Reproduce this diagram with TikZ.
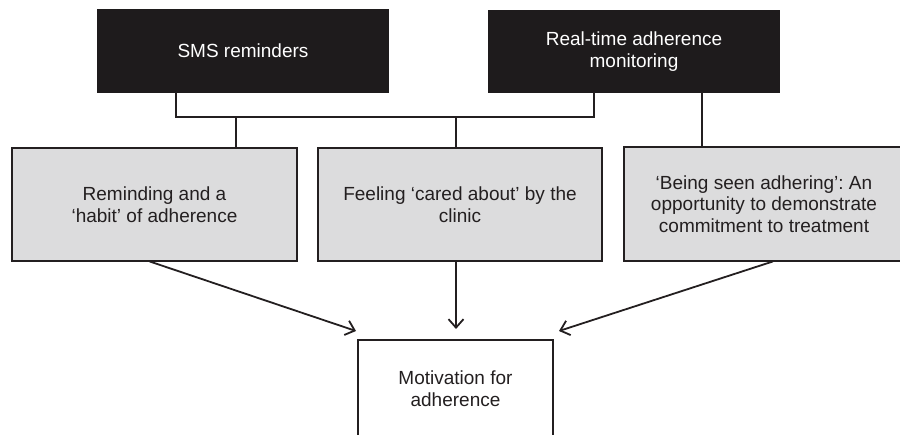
\documentclass[tikz,border=0pt]{standalone}
\usepackage{fontspec}
\setmainfont{Liberation Sans}
\usepackage{tikz}
\usetikzlibrary{arrows.meta}
\frenchspacing

\definecolor{boxdark}{HTML}{1E1B1C}
\definecolor{boxgray}{HTML}{DCDCDD}
\definecolor{inkgray}{HTML}{231F20}

\begin{document}
\begin{tikzpicture}[line cap=rect,line join=miter,x=1pt,y=-1pt,
  every node/.style={font=\fontsize{19}{21.5}\selectfont,align=center,inner sep=0pt},
  topbox/.style={fill=boxdark,text=white,draw=boxdark,line width=1.5pt},
  midbox/.style={fill=boxgray,text=inkgray,draw=inkgray,line width=1.5pt},
  endbox/.style={fill=white,text=inkgray,draw=inkgray,line width=2pt},
  link/.style={draw=inkgray,line width=2pt},
  arr/.style={draw=inkgray,line width=1.8pt,-{Straight Barb[length=8.5pt,width=15pt]}}]
\useasboundingbox (0,0) rectangle (900,435);
\clip (0,0) rectangle (900,435);
\node[topbox,minimum width=290pt,minimum height=82pt] (sms) at (243,51) {SMS reminders};
\node[topbox,minimum width=290pt,minimum height=81pt] (rtm) at (634,51.5) {Real-time adherence\\monitoring};
\node[midbox,minimum width=285pt,minimum height=113pt] (remind) at (154.5,204.5) {Reminding and a\\`habit' of adherence};
\node[midbox,minimum width=284pt,minimum height=113pt] (cared) at (460,204.5) {Feeling `cared about' by the\\clinic};
\node[midbox,minimum width=280pt,minimum height=114pt] (seen) at (764,204) {`Being seen adhering': An\\opportunity to demonstrate\\commitment to treatment};
\node[endbox,minimum width=195pt,minimum height=97pt] (motiv) at (455.5,388.5) {Motivation for\\adherence};
\coordinate (bl) at (176,117);
\coordinate (br) at (594,117);
\coordinate (da) at (236,117);
\coordinate (db) at (456,117);
\coordinate (dc) at (702,117);
\draw[link] (bl |- sms.south) -- (bl) -- (br) -- (br |- rtm.south);
\draw[link] (da) -- (da |- remind.north);
\draw[link] (db) -- (db |- cared.north);
\draw[link] (dc |- rtm.south) -- (dc |- seen.north);
\draw[arr] ([xshift=-4pt]remind.south) -- ([xshift=-1pt,yshift=8pt]motiv.north west);
\draw[arr] (db |- cared.south) -- ([yshift=10pt]db |- motiv.north);
\draw[arr] ([xshift=8pt]seen.south) -- ([xshift=5pt,yshift=8pt]motiv.north east);
\end{tikzpicture}
\end{document}
